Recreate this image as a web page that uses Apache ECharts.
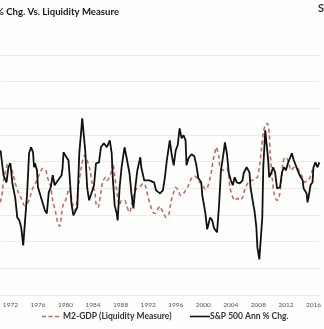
<!DOCTYPE html>
<html>
<head>
<meta charset="utf-8">
<script src="https://cdn.jsdelivr.net/npm/echarts@6/dist/echarts.min.js"></script>
<style>
html,body{margin:0;padding:0;background:#fefefc;}
#c{width:324px;height:329px;}
</style>
</head>
<body>
<div id="c"></div>
<script>
// S&P 500 annual % change (decimal year, value)
var spxYears = [1970.57,1971.0,1971.43,1971.71,1972.0,1972.29,1972.71,1973.0,1973.29,1973.57,1973.86,1974.43,1974.71,1975.0,1975.29,1975.43,1975.57,1975.86,1976.0,1976.57,1977.0,1977.29,1977.57,1977.86,1978.14,1978.43,1978.71,1979.0,1979.43,1979.57,1979.71,1980.14,1980.43,1980.57,1980.86,1981.14,1981.43,1981.71,1982.0,1982.29,1982.43,1982.86,1983.14,1983.43,1983.71,1984.14,1984.43,1984.86,1985.14,1985.57,1986.0,1986.43,1986.71,1986.86,1987.14,1987.43,1987.57,1987.86,1988.14,1988.57,1988.86,1989.29,1989.57,1989.86,1990.14,1990.43,1990.86,1991.0,1991.43,1991.71,1992.14,1992.43,1992.86,1993.14,1993.71,1994.14,1994.43,1994.71,1994.86,1995.14,1995.43,1995.71,1996.0,1996.29,1996.57,1996.86,1997.14,1997.43,1997.57,1997.86,1998.29,1998.71,1999.0,1999.29,1999.71,1999.86,2000.29,2000.57,2001.0,2001.29,2001.57,2002.0,2002.29,2002.57,2003.0,2003.14,2003.43,2003.71,2004.0,2004.29,2004.57,2004.86,2005.14,2005.29,2005.71,2005.86,2006.29,2006.71,2006.86,2007.29,2007.43,2007.71,2007.86,2008.14,2008.29,2008.57,2008.71,2009.0,2009.43,2009.57,2009.86,2010.14,2010.43,2010.71,2011.0,2011.14,2011.43,2011.71,2012.0,2012.29,2012.43,2012.86,2013.14,2013.43,2013.71,2014.0,2014.43,2014.57,2015.0,2015.14,2015.29,2015.57,2015.86,2016.0,2016.29,2016.57,2016.86];
var spxValues = [28.5,9.8,4.5,15.8,18.8,3.8,-7.5,-21.8,-24,-29.3,-42.8,-3.8,26.3,30.8,27,15.8,18.8,13.5,0.8,-9,-16.5,-18.8,-3,0.8,9.8,2.3,4.5,6,9.8,15,27,23.3,21,11.3,-11.3,-20.3,-21.8,-14.3,26.3,43.5,52.5,28.5,0.8,-9,-7.5,2.3,18.8,19.5,30.8,33.8,30.8,36,26.3,8.3,-12.8,-18.8,-24,0.8,15.8,30.8,23.3,11.3,-3.8,-15,0.8,13.5,23.3,15.8,6,7.5,6,7.5,4.5,-1.5,-3.8,-1.5,8.3,21,26.3,36,24.8,17.3,28.5,32.3,45,37.5,39.8,36,17.3,22.5,25.5,24,17.3,7.5,4.5,-5.3,-18,-30.8,-21.8,-24,-30,-33,-12.8,13.5,28.5,34.5,26.3,11.3,6,2.3,8.3,4.5,6,3.8,6,11.3,15.8,12,0.8,-12.8,-16.5,-29.3,-44.3,-53.3,-51.8,-21.8,15.8,43.5,21,8.3,11.3,15.8,12,0,-1.5,0.8,12,15.8,13.5,18.8,19.5,26.3,21,17.3,13.5,9.8,6,0,-3.8,-10.5,-6.8,2.3,4.5,15.8,19.5,15.8,19.5];

// M2 - GDP liquidity measure (decimal year, value)
var m2Years = [1970.57,1970.86,1971.0,1971.43,1971.71,1972.0,1972.43,1972.71,1973.14,1973.71,1974.0,1974.29,1974.57,1975.0,1975.29,1975.86,1976.14,1976.71,1977.14,1977.43,1977.86,1978.14,1978.57,1978.86,1979.14,1979.43,1979.71,1980.0,1980.29,1980.57,1980.86,1981.0,1981.43,1981.71,1982.0,1982.29,1982.57,1982.86,1983.14,1983.57,1983.86,1984.29,1984.43,1984.71,1985.14,1985.43,1985.86,1986.0,1986.29,1986.71,1986.86,1987.14,1987.43,1987.86,1988.14,1988.57,1988.86,1989.29,1989.57,1989.86,1990.14,1990.57,1991.0,1991.29,1991.57,1992.0,1992.43,1992.71,1993.0,1993.29,1993.71,1994.0,1994.29,1994.57,1995.0,1995.29,1995.71,1996.0,1996.43,1996.71,1997.14,1997.43,1997.86,1998.14,1998.57,1998.86,1999.43,1999.86,2000.29,2000.57,2001.14,2001.43,2001.71,2001.86,2002.29,2002.43,2003.0,2003.43,2003.71,2003.86,2004.29,2004.57,2005.0,2005.29,2005.71,2006.0,2006.43,2006.71,2007.14,2007.43,2007.86,2008.14,2008.43,2008.71,2009.0,2009.29,2009.57,2009.71,2010.0,2010.29,2010.71,2011.0,2011.29,2011.57,2011.86,2012.14,2012.43,2012.71,2013.0,2013.29,2013.71,2014.0,2014.43,2014.71,2015.14,2015.43,2015.71,2016.0,2016.29,2016.71];
var m2Values = [-1.05,-0.15,0.6,1.58,1.95,1.73,0.98,0.38,-0.3,-0.9,-1.28,-1.13,-1.05,-0.38,0.08,0.6,0.98,1.5,1.35,0.75,0.08,-0.9,-1.8,-2.55,-2.85,-1.88,-1.13,-0.9,-0.38,0,-0.68,-1.13,-1.65,-0.68,0.6,1.58,2.25,2.48,2.1,1.35,0.38,-0.38,-1.13,-1.43,-0.3,0.53,0.83,0.6,0.75,1.35,1.88,0.98,-0.15,-1.28,-0.9,-0.9,-1.28,-1.8,-1.28,-0.68,-0.15,0.08,0.23,0.38,0.23,-0.68,-1.43,-1.8,-1.88,-1.65,-1.35,-1.65,-1.88,-2.18,-1.95,-1.05,-0.3,0.08,-0.23,-0.53,-0.38,-0.15,0.23,0.6,0.9,0.9,0.45,0.3,-0.08,0,1.13,2.1,2.7,3.08,2.33,1.58,1.35,1.5,0.83,0.08,-0.68,-0.9,-0.75,-0.9,-0.68,-0.15,0.38,0.6,0.6,0.75,0.83,1.58,2.85,4.13,4.73,4.88,4.13,2.63,0.83,-0.38,-0.9,-0.68,0.38,1.88,2.33,2.25,1.88,1.35,1.5,1.58,1.5,1.2,0.83,0.45,0.6,0.75,1.13,1.58,1.88,1.58];

var yearTicks = [1972,1976,1980,1984,1988,1992,1996,2000,2004,2008,2012,2016];

var titleText = 'S&P 500 Ann % Chg. Vs. Liquidity Measure';
var m2Name = 'M2-GDP (Liquidity Measure)';
var spxName = 'S&P 500 Ann % Chg.';

var RED = '#c46a6a';
var BLACK = '#111';

function pairs(xs, ys){ return xs.map(function(x,i){ return [x, ys[i]]; }); }

var chart = echarts.init(document.getElementById('c'), null, {renderer:'canvas'});
chart.setOption({
  backgroundColor:'#fefefc',
  animation:false,
  textStyle:{fontFamily:'Lato, "Open Sans", sans-serif'},
  graphic:[
    {type:'text', right:205, top:7, style:{text:titleText, fontSize:9.6, fontWeight:'bold', fill:'#1a1a1a', fontFamily:'Lato, sans-serif'}},
    {type:'text', left:318, top:3, style:{text:'S', fontSize:11, fontWeight:'bold', fill:'#333', fontFamily:'Lato, sans-serif'}},
    // legend (drawn as graphics so the icons are plain line samples)
    {type:'line', shape:{x1:42, y1:316.5, x2:60, y2:316.5}, style:{stroke:RED, lineWidth:1.6, lineDash:[4,2.5]}},
    {type:'text', left:63, top:311.5, style:{text:m2Name, fontSize:8.5, fontWeight:'bold', fill:'#333', fontFamily:'Lato, sans-serif'}},
    {type:'line', shape:{x1:190, y1:316.5, x2:210, y2:316.5}, style:{stroke:BLACK, lineWidth:1.6}},
    {type:'text', left:210, top:311.5, style:{text:spxName, fontSize:8.5, fontWeight:'bold', fill:'#333', fontFamily:'Lato, sans-serif'}}
  ],
  grid:{left:0, right:0, top:55, bottom:34, containLabel:false},
  xAxis:{
    type:'value', min:1970.57, max:2016.86,
    axisLine:{show:false}, splitLine:{show:false},
    axisTick:{show:false},
    axisLabel:{customValues:yearTicks, fontSize:6.5, color:'#555', margin:6, formatter:function(v){return String(Math.round(v));}}
  },
  yAxis:[
    {type:'value', min:-80, max:100, interval:20, axisLabel:{show:false}, axisLine:{show:false}, axisTick:{show:false},
     splitLine:{lineStyle:{color:'#ebebe8', width:1}}},
    {type:'value', min:-8, max:10, interval:2, axisLabel:{show:false}, axisLine:{show:false}, axisTick:{show:false},
     splitLine:{show:false}}
  ],
  series:[
    {name:m2Name, type:'line', yAxisIndex:1, data:pairs(m2Years, m2Values), showSymbol:false, symbol:'none', smooth:0.3,
     lineStyle:{color:RED, width:1.6, type:[4,3]}, itemStyle:{color:RED}, z:2},
    {name:spxName, type:'line', yAxisIndex:0, data:pairs(spxYears, spxValues), showSymbol:false, symbol:'none',
     lineStyle:{color:BLACK, width:1.8}, itemStyle:{color:BLACK}, z:3}
  ]
});
</script>
</body>
</html>
